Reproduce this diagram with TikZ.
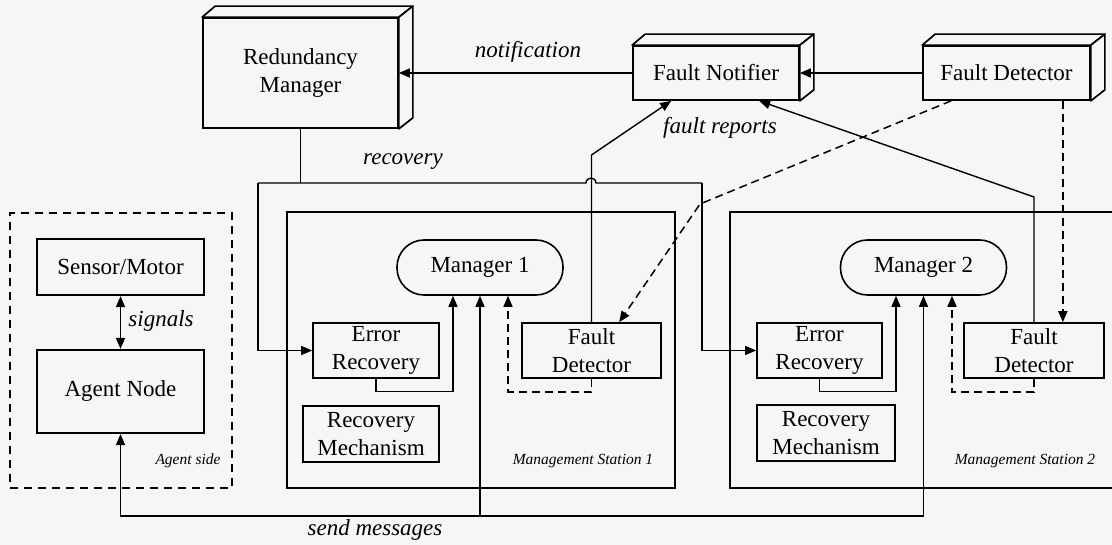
\documentclass[tikz,border=0pt]{standalone}
\usepackage{fontspec}
\setmainfont{Liberation Serif}
\usetikzlibrary{arrows.meta,calc}
\definecolor{bg}{RGB}{246,246,246}

% faces of a box drawn in perspective (top and right side)
\newcommand\boxdepth[1]{%
  \draw[line width=1.7pt,fill=bg,line join=round]
    (#1.north west) -- ++(13,-11) -- ($(#1.north east)+(14,-11)$) -- (#1.north east) -- cycle;
  \draw[line width=1.7pt,fill=bg,line join=round]
    (#1.north east) -- ++(14,-11) -- ($(#1.south east)+(14,-11)$) -- (#1.south east) -- cycle;
}

\begin{document}
\begin{tikzpicture}[x=1pt,y=-1pt,
  font=\fontsize{23}{28}\selectfont,
  tip/.style={-{Triangle[length=11pt,width=9pt]}},
  link/.style={line width=1.4pt},
  dlink/.style={line width=1.5pt,dash pattern=on 8pt off 5pt},
  cube/.style={draw,line width=1.7pt,fill=bg,inner sep=0pt,align=center},
  station/.style={draw,line width=2.5pt,inner sep=0pt},
  part/.style={draw,line width=1.6pt,fill=bg,inner sep=0pt,align=center,minimum height=55pt},
  agentbox/.style={draw,line width=2.2pt,fill=bg,inner sep=0pt,align=center,minimum width=167pt},
  pill/.style={draw,line width=1.6pt,fill=bg,rounded corners=27pt,inner sep=0pt,minimum width=166pt,minimum height=55pt},
  lbl/.style={font=\fontsize{23}{28}\selectfont\itshape},
  small/.style={font=\fontsize{15.5}{18}\selectfont\itshape}
]
\fill[bg] (0,0) rectangle (1112,545);
\clip (0,0) rectangle (1112,545);
\useasboundingbox (0,0) rectangle (1112,545);

% top row: redundancy manager, fault notifier, global fault detector
\node[cube,minimum width=195pt,minimum height=110pt] (rm) at (300.5,73) {Redundancy\\Manager};
\boxdepth{rm}
\node[cube,minimum width=166pt,minimum height=54pt] (fn) at (716,73) {Fault Notifier};
\boxdepth{fn}
\node[cube,minimum width=167pt,minimum height=54pt] (fdt) at (1006.5,73) {Fault Detector};
\boxdepth{fdt}

% agent side
\node[draw,line width=2.2pt,dash pattern=on 8pt off 6pt,inner sep=0pt,minimum width=222pt,minimum height=275pt] (agent) at (121,350.5) {};
\node[agentbox,minimum height=56pt] (sm) at (120.5,267) {Sensor/Motor};
\node[agentbox,minimum height=83pt] (an) at (120.5,391.5) {Agent Node};
\node[small,anchor=center] (agentlbl) at (188,461) {Agent side};

% management stations
\node[station,minimum width=388pt,minimum height=276pt] (ms1) at (481,350) {};
\node[station,minimum width=395pt,minimum height=276pt] (ms2) at (927.5,350) {};

\node[pill] (m1) at (480,267.5) {Manager 1};
\node[part,minimum width=126pt] (er1) at (376,350.5) {Error\\Recovery};
\node[part,minimum width=139pt] (fd1) at (591.5,350.5) {Fault\\Detector};
\node[part,minimum width=136pt,minimum height=56pt] (rc1) at (371,434) {Recovery\\Mechanism};
\node[small] (ms1lbl) at (583,461) {Management Station 1};

\node[pill] (m2) at (923.5,267.5) {Manager 2};
\node[part,minimum width=125pt] (er2) at (819.5,350.5) {Error\\Recovery};
\node[part,minimum width=140pt] (fd2) at (1034,350.5) {Fault\\Detector};
\node[part,minimum width=138pt,minimum height=56pt] (rc2) at (826,433) {Recovery\\Mechanism};
\node[small] (ms2lbl) at (1025,461) {Management Station 2};

% notification path
\draw[link,tip] (fdt.west) -- (fn.east);
\draw[link,tip] (fn.west) -- (rm.east);
\node[lbl] (notif) at (528,52) {notification};

% recovery path
\coordinate (rj) at (rm.south |- 0,183);
\coordinate (r1) at (258,183);
\coordinate (r2) at (702,183);
\draw[link] (rm.south) -- (rj);
\draw[link] (r1) -- (586,183) .. controls (586,176.5) and (596,176.5) .. (596,183) -- (r2);
\draw[link,tip] (r1) |- (er1.west);
\draw[link,tip] (r2) |- (er2.west);
\node[lbl] (reclbl) at (403,162) {recovery};

% fault reports
\coordinate (fnin1) at ($(fn.south west)+(39,0)$);
\coordinate (fnin2) at ($(fn.south west)+(127,0)$);
\draw[link,tip] (fd1.north) -- (fd1.north |- 0,155) -- (fnin1);
\draw[link,tip] (fd2.north) -- (fd2.north |- 0,197) -- (fnin2);
\node[lbl] (replbl) at (720,128) {fault reports};

% detection from the global fault detector
\coordinate (fdo1) at ($(fdt.south west)+(29,0)$);
\coordinate (fdo2) at ($(fdt.south east)+(-28,0)$);
\coordinate (fd1in) at ($(fd1.north west)+(98,0)$);
\draw[dlink,tip] (fdo1) -- (700,204) -- (fd1in);
\draw[dlink,tip] (fdo2) -- (fdo2 |- fd2.north);

% station 1 internals
\draw[link,tip] (er1.south) -- ++(0,13) -| ($(m1.south)+(-27,0)$);
\draw[dlink,tip] (fd1.south) -- ++(0,13) -| ($(m1.south)+(28,0)$);

% station 2 internals
\draw[link,tip] (er2.south) -- ++(0,13) -| ($(m2.south)+(-27.5,0)$);
\draw[dlink,tip] (fd2.south) -- ++(0,13) -| ($(m2.south)+(28.5,0)$);

% message bus
\coordinate (busL) at (an.south |- 0,516);
\coordinate (busR) at (m2.south |- 0,516);
\draw[link,tip] (busR) -- (busL) -- (an.south);
\draw[link,tip] (busR) -- (m2.south);
\draw[link,tip] (m1.south |- busR) -- (m1.south);
\node[lbl] (sendlbl) at (375,530) {send messages};

% signals
\draw[link,{Triangle[length=11pt,width=9pt]}-{Triangle[length=11pt,width=9pt]}] (sm.south) -- (an.north);
\node[lbl] (siglbl) at (161,321) {signals};
\end{tikzpicture}
\end{document}
